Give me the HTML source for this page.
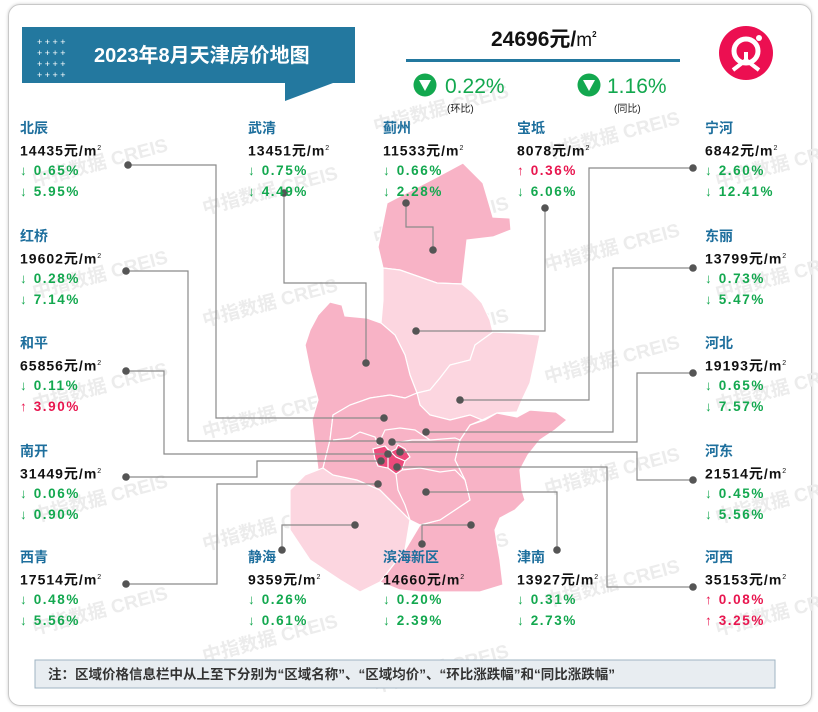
<!DOCTYPE html>
<html><head><meta charset="utf-8"><style>
body{margin:0;width:818px;height:712px;background:#fff;font-family:"Liberation Sans","Noto Sans CJK SC",sans-serif;position:relative;overflow:hidden}
.card{position:absolute;left:8px;top:4px;width:802px;height:700px;border:1.5px solid #c8c8c8;border-radius:12px;box-shadow:0 0 3px #ccc}
.lbl{position:absolute;font-size:14px;white-space:nowrap}
.lbl .n{color:#1e6f9d;font-weight:bold;font-size:14px;height:20px;line-height:20px}
.lbl .p{color:#111;font-weight:bold;letter-spacing:1px;height:22px;line-height:22px}
.lbl .p sup{font-size:7px;font-weight:normal}
.lbl .c{font-size:13.5px;font-weight:bold;letter-spacing:1.6px;height:21px;line-height:21px}
.g{color:#13a84f}.r{color:#e8164f}
.wm{position:absolute;color:#ececec;font-weight:bold;font-size:19px;transform:rotate(-15deg);white-space:nowrap}
</style></head><body>
<div class="card"></div>
<div id="wms"></div>
<svg id="map" width="818" height="712" style="position:absolute;left:0;top:0"></svg>

<svg width="818" height="712" style="position:absolute;left:0;top:0;pointer-events:none">
 <polygon points="22,27 355,27 355,83 333,83 285,101 285,83 22,83" fill="#23789f"/>
 <g fill="#fff" font-size="9">
  <text x="37" y="45">+ + + +</text><text x="37" y="56">+ + + +</text><text x="37" y="67">+ + + +</text><text x="37" y="78">+ + + +</text>
 </g>
 <text x="94" y="62" fill="#fff" font-size="20" font-weight="bold" font-family="Liberation Sans, Noto Sans CJK SC, sans-serif">2023年8月天津房价地图</text>
 <text x="491" y="46" font-size="21" font-weight="bold" fill="#111" font-family="Liberation Sans, Noto Sans CJK SC, sans-serif">24696元/<tspan font-size="19" font-weight="normal">m</tspan><tspan font-size="8" dy="-9">2</tspan></text>
 <rect x="406" y="59" width="274" height="3" fill="#23789f"/>
 <g>
  <circle cx="425" cy="85" r="11.5" fill="#13a84f"/><polygon points="419,80 431,80 425,91" fill="#fff"/>
  <text x="445" y="93" font-size="21" fill="#13a84f">0.22%</text>
  <text x="447" y="112" font-size="10" fill="#222" font-family="Liberation Sans, Noto Sans CJK SC, sans-serif">(环比)</text>
 </g>
 <g>
  <circle cx="589" cy="85" r="11.5" fill="#13a84f"/><polygon points="583,80 595,80 589,91" fill="#fff"/>
  <text x="607" y="93" font-size="21" fill="#13a84f">1.16%</text>
  <text x="614" y="112" font-size="10" fill="#222" font-family="Liberation Sans, Noto Sans CJK SC, sans-serif">(同比)</text>
 </g>
 <g>
  <circle cx="746" cy="53" r="27" fill="#ec0f51"/>
  <circle cx="746" cy="51" r="12" fill="none" stroke="#fff" stroke-width="5"/>
  <path d="M733 70 L746 60 L759 70 M746 60 V52" stroke="#fff" stroke-width="4" fill="none"/>
  <circle cx="759" cy="38" r="3" fill="#fff"/>
 </g>
 <rect x="35" y="660" width="740" height="28" fill="#e8edf1" stroke="#9fb4c3" stroke-width="1"/>
 <text x="48" y="679" font-size="13.5" font-weight="bold" fill="#333" font-family="Liberation Sans, Noto Sans CJK SC, sans-serif">注：区域价格信息栏中从上至下分别为“区域名称”、“区域均价”、“环比涨跌幅”和“同比涨跌幅”</text>
</svg>
<div id="labels"></div>

<script>
// Data
const districts = ['北辰','武清','蓟州','宝坻','宁河','红桥','东丽','和平','河北','南开','河东','西青','静海','滨海新区','津南','河西'];
const prices = [14435,13451,11533,8078,6842,19602,13799,65856,19193,31449,21514,17514,9359,14660,13927,35153];
const momChange = [-0.65,-0.75,-0.66,0.36,-2.60,-0.28,-0.73,-0.11,-0.65,-0.06,-0.45,-0.48,-0.26,-0.20,-0.31,0.08];
const yoyChange = [-5.95,-4.49,-2.28,-6.06,-12.41,-7.14,-5.47,3.90,-7.57,-0.90,-5.56,-5.56,-0.61,-2.39,-2.73,3.25];

// Layout (not data)
const labelXY = [[20,118],[248,118],[383,118],[517,118],[705,118],[20,226],[705,226],[20,333],[705,333],[20,441],[705,441],[20,547],[248,547],[383,547],[517,547],[705,547]];
const leaderPaths = [
 [[128,165],[216,165],[216,418],[384,418]],
 [[284,193],[284,283],[366,283],[366,363]],
 [[406,203],[406,227],[433,227],[433,250]],
 [[545,208],[545,331],[416,331]],
 [[693,168],[589,168],[589,400],[460,400]],
 [[126,271],[188,271],[188,441],[380,441]],
 [[693,268],[613,268],[613,432],[426,432]],
 [[126,371],[164,371],[164,454],[388,454]],
 [[693,373],[637,373],[637,442],[392,442]],
 [[126,477],[257,477],[257,461],[381,461]],
 [[693,480],[637,480],[637,452],[400,452]],
 [[126,584],[217,584],[217,484],[378,484]],
 [[282,550],[282,525],[355,525]],
 [[422,544],[422,525],[471,525]],
 [[557,550],[557,492],[426,492]],
 [[693,587],[607,587],[607,467],[397,467]]
];
const regions = [
 ['jizhou','#f8b3c6','387,203 437,177 463,163 483,183 493,217 510,218 511,230 493,237 467,240 462,284 437,283 400,270 383,268 378,247'],
 ['baodi','#fcd6e0','383,268 400,270 437,283 462,284 472,292 482,303 490,320 493,332 475,345 470,360 450,365 440,378 430,390 417,393 410,375 405,355 395,335 381,323 383,300'],
 ['wuqing','#f8b3c6','330,302 342,305 345,316 367,318 381,323 395,335 405,355 410,375 417,393 405,398 390,395 370,398 350,405 333,415 330,440 325,460 323,468 318,470 315,445 312,420 318,400 310,370 305,345 310,330 318,315'],
 ['ninghe','#fcd6e0','417,393 430,390 440,378 450,365 470,360 475,345 493,332 515,333 540,335 535,360 530,383 522,400 517,412 497,413 482,420 470,415 450,420 430,415 420,405'],
 ['binhai','#f8b3c6','497,413 517,417 530,410 556,412 567,420 555,430 540,440 528,455 520,470 522,490 525,500 515,510 500,518 495,530 497,543 500,560 503,585 480,592 450,592 420,592 400,590 380,582 405,550 420,525 440,520 470,500 465,480 455,460 460,440 470,425 485,420'],
 ['jinghai','#fcd6e0','323,468 333,475 357,480 380,490 400,510 410,520 405,550 380,582 360,592 340,580 310,560 290,530 290,490 305,475'],
 ['central','#f8b3c6','333,415 350,405 370,398 390,395 405,398 417,393 420,405 430,415 450,420 470,415 482,420 470,425 460,440 455,460 465,480 470,500 440,520 420,525 410,520 400,510 380,490 357,480 333,475 323,468 325,460 330,440'],
 ['core','#ec4a7b','373,449 385,446 390,452 396,449 398,445 405,449 410,457 405,461 402,470 396,474 388,468 378,466 375,459']
];
const innerBorders = [
 '333,440 350,438 360,432 375,437 378,445','395,443 412,440 430,440 455,438 460,440',
 '396,474 398,490 405,505 410,520','402,470 420,468 440,472 455,470 465,480','378,445 385,430 400,428 415,430 430,440',
 '388,452 388,468','385,446 396,457 405,461'
];

const NS='http://www.w3.org/2000/svg';
const map=document.getElementById('map');
regions.forEach(r=>{
 const p=document.createElementNS(NS,'polygon');
 p.setAttribute('points',r[2]);p.setAttribute('fill',r[1]);p.setAttribute('stroke','#fff');p.setAttribute('stroke-width','1.2');
 
 
 map.appendChild(p);
});
innerBorders.forEach(b=>{
 const p=document.createElementNS(NS,'polyline');
 p.setAttribute('points',b);p.setAttribute('fill','none');p.setAttribute('stroke','#fff');p.setAttribute('stroke-width','1.2');
 
 
 map.appendChild(p);
});
leaderPaths.forEach((pts,i)=>{
 const l=document.createElementNS(NS,'polyline');
 l.setAttribute('points',pts.map(p=>p.join(',')).join(' '));l.setAttribute('fill','none');l.setAttribute('stroke','#8a8a8a');l.setAttribute('stroke-width','1.2');
 
 
 map.appendChild(l);
 [pts[0],pts[pts.length-1]].forEach(p=>{
  const c=document.createElementNS(NS,'circle');
  c.setAttribute('cx',p[0]);c.setAttribute('cy',p[1]);c.setAttribute('r','3.8');c.setAttribute('fill','#555');
  
  
  map.appendChild(c);
 });
});
function pct(v){const up=v>0;return '<div class="c '+(up?'r':'g')+'">'+(up?'↑':'↓')+' '+Math.abs(v).toFixed(2)+'%</div>';}
const lab=document.getElementById('labels');
districts.forEach((d,i)=>{
 const el=document.createElement('div');
 el.className='lbl';el.style.left=labelXY[i][0]+'px';el.style.top=labelXY[i][1]+'px';
 
 
 el.innerHTML='<div class="n">'+d+'</div><div class="p">'+prices[i]+'元/m<sup>2</sup></div>'+pct(momChange[i])+pct(yoyChange[i]);
 lab.appendChild(el);
});
const wm=document.getElementById('wms');
const wmCols=[[92,272],[262,300],[433,330],[604,357],[775,385]];
wmCols.forEach(c=>{for(let k=-2;k<4;k++){
 const y=c[1]+k*112; if(y<100||y>680) continue;
 const w=document.createElement('div');w.className='wm';w.textContent='中指数据 CREIS';
 w.style.left=(c[0]-62)+'px';w.style.top=(y-12)+'px';
 
 
 wm.appendChild(w);
}});
</script>
</body></html>
